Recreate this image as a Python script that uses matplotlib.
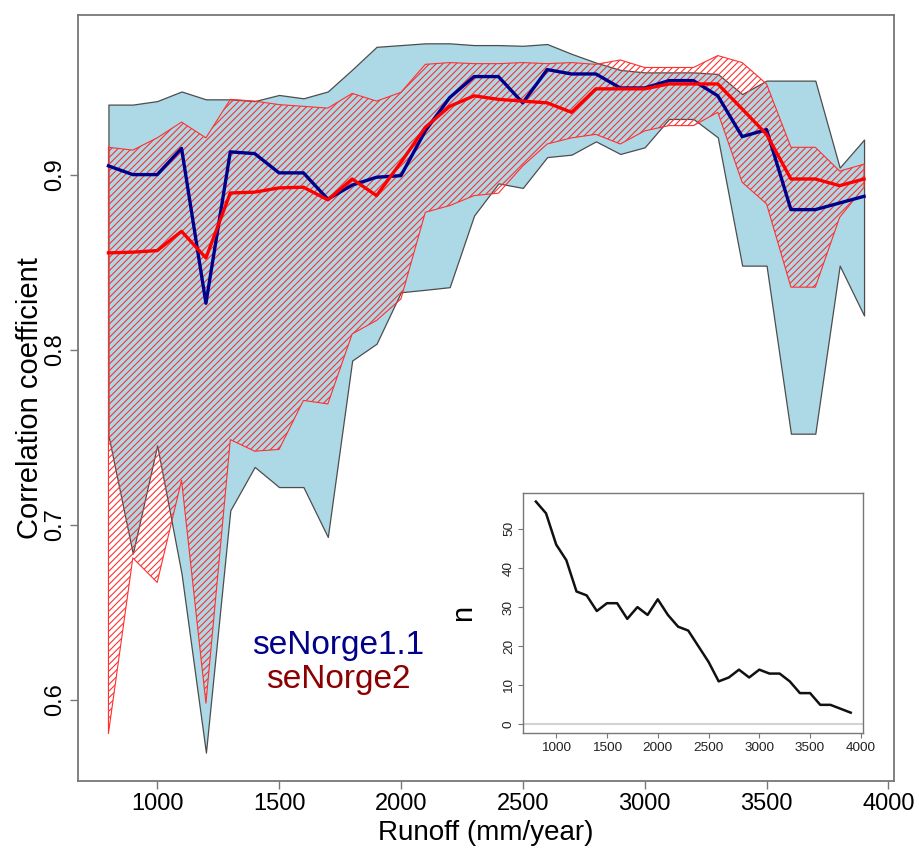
import matplotlib
matplotlib.use('Agg')
import matplotlib.pyplot as plt
from matplotlib.ticker import FixedLocator

plt.rcParams['font.family'] = ['Liberation Sans', 'DejaVu Sans']
plt.rcParams['hatch.linewidth'] = 0.8

# Runoff classes (mm/year)
runoff = [800, 900, 1000, 1100, 1200, 1300, 1400, 1500, 1600, 1700, 1800, 1900,
          2000, 2100, 2200, 2300, 2400, 2500, 2600, 2700, 2800, 2900, 3000, 3100,
          3200, 3300, 3400, 3500, 3600, 3700, 3800, 3900]

# seNorge1.1 (blue): mean, min, max correlation
sn1_mean = [0.905, 0.900, 0.900, 0.915, 0.8265, 0.913, 0.912, 0.901, 0.901, 0.886,
            0.894, 0.8985, 0.8994, 0.925, 0.944, 0.956, 0.956, 0.941, 0.960, 0.9575,
            0.9575, 0.9495, 0.9495, 0.9537, 0.9537, 0.945, 0.9217, 0.9257, 0.880,
            0.880, 0.8838, 0.8876]
sn1_min = [0.751, 0.6835, 0.7453, 0.672, 0.5698, 0.7082, 0.733, 0.7215, 0.7215, 0.693,
           0.7938, 0.8034, 0.8328, 0.8342, 0.8357, 0.8766, 0.895, 0.8924, 0.910, 0.9114,
           0.919, 0.9118, 0.9156, 0.9318, 0.9318, 0.9213, 0.848, 0.848, 0.752, 0.752,
           0.848, 0.8195]
sn1_max = [0.940, 0.940, 0.942, 0.9475, 0.943, 0.943, 0.942, 0.9455, 0.9436, 0.9475,
           0.960, 0.973, 0.974, 0.975, 0.975, 0.974, 0.974, 0.9736, 0.9746, 0.969,
           0.964, 0.9598, 0.9584, 0.9584, 0.9584, 0.9575, 0.946, 0.9537, 0.9537, 0.9537,
           0.904, 0.920]

# seNorge2 (red): mean, min, max correlation
sn2_mean = [0.8553, 0.8557, 0.8566, 0.8676, 0.8524, 0.8895, 0.890, 0.8924, 0.8928, 0.8856,
            0.8975, 0.888, 0.907, 0.927, 0.939, 0.945, 0.943, 0.942, 0.941, 0.9356,
            0.949, 0.949, 0.949, 0.9518, 0.9518, 0.9518, 0.9375, 0.923, 0.8975, 0.8975,
            0.8937, 0.8975]
sn2_min = [0.5807, 0.681, 0.667, 0.7254, 0.598, 0.7486, 0.742, 0.743, 0.771, 0.769,
           0.809, 0.8167, 0.829, 0.8785, 0.8823, 0.888, 0.8894, 0.905, 0.9175, 0.921,
           0.923, 0.9175, 0.925, 0.928, 0.928, 0.9356, 0.8956, 0.8833, 0.8357, 0.8357,
           0.8756, 0.8928]
sn2_max = [0.9156, 0.914, 0.921, 0.930, 0.921, 0.943, 0.942, 0.940, 0.939, 0.938,
           0.9464, 0.942, 0.947, 0.963, 0.964, 0.9634, 0.9634, 0.964, 0.9634, 0.964,
           0.963, 0.9655, 0.9612, 0.9612, 0.9612, 0.968, 0.964, 0.9518, 0.9156, 0.9156,
           0.902, 0.906]

# number of catchments per class (inset)
n_catch = [57, 54, 46, 42, 34, 33, 29, 31, 31, 27, 30, 28, 32, 28, 25, 24, 20, 16,
           11, 12, 14, 12, 14, 13, 13, 11, 8, 8, 5, 5, 4, 3]

xticks = [1000, 1500, 2000, 2500, 3000, 3500, 4000]
yticks = [0.6, 0.7, 0.8, 0.9]
nticks = [0, 10, 20, 30, 40, 50]

BLUE = '#00008B'
RED = '#FF0000'
DARKRED = '#8B0000'
FRAME = '#777777'


def r_range(vals):
    lo, hi = min(vals), max(vals)
    pad = 0.04 * (hi - lo)
    return lo - pad, hi + pad


fig = plt.figure(figsize=(9.19, 8.5), dpi=100)
ax = fig.add_axes([0.0851, 0.0812, 0.888, 0.9012])

ax.fill_between(runoff, sn1_min, sn1_max, facecolor='#ADD8E6', edgecolor='#4d4d4d',
                linewidth=0.9, zorder=1)
ax.fill_between(runoff, sn2_min, sn2_max, facecolor='none', edgecolor='#ff3030',
                hatch='/////', linewidth=0.8, zorder=2)
ax.plot(runoff, sn1_mean, color=BLUE, linewidth=2.4, zorder=3)
ax.plot(runoff, sn2_mean, color=RED, linewidth=2.4, zorder=4)

ax.set_xlim(*r_range(runoff))
ax.set_ylim(*r_range(sn1_min + sn1_max + sn2_min + sn2_max))
ax.xaxis.set_major_locator(FixedLocator(xticks))
ax.yaxis.set_major_locator(FixedLocator(yticks))
ax.set_yticklabels([f'{v:.1f}' for v in yticks])
ax.tick_params(axis='both', length=5.5, width=1.0, color=FRAME, labelsize=17, pad=3)
ax.tick_params(axis='y', labelrotation=90)
for lab in ax.get_yticklabels():
    lab.set_va('center')
for sp in ax.spines.values():
    sp.set_color(FRAME)
    sp.set_linewidth(1.3)

ax.set_xlabel('Runoff (mm/year)', fontsize=20, va='center')
ax.xaxis.set_label_coords(0.5, -0.068)
ax.set_ylabel('Correlation coefficient', fontsize=21, va='center')
ax.yaxis.set_label_coords(-0.059, 0.5)

ax.text(0.3183, 0.1775, 'seNorge1.1', color=BLUE, fontsize=24, ha='center',
        va='center', transform=ax.transAxes)
ax.text(0.3183, 0.1319, 'seNorge2', color=DARKRED, fontsize=24, ha='center',
        va='center', transform=ax.transAxes)

# inset
ins = fig.add_axes([0.5694, 0.1373, 0.370, 0.2831])
ins.set_facecolor('white')
ins.axhline(0, color='#d3d3d3', linewidth=1.5, zorder=1)
ins.plot(runoff, n_catch, color='#111111', linewidth=1.8, zorder=2)
ins.set_xlim(*r_range(runoff))
ins.set_ylim(*r_range(n_catch + [0]))
ins.xaxis.set_major_locator(FixedLocator(xticks))
ins.yaxis.set_major_locator(FixedLocator(nticks))
ins.tick_params(axis='both', length=3.5, width=0.8, color=FRAME, labelsize=9.7, pad=2.5,
                labelcolor='#222222')
ins.tick_params(axis='y', labelrotation=90)
for lab in ins.get_yticklabels():
    lab.set_va('center')
for sp in ins.spines.values():
    sp.set_color(FRAME)
    sp.set_linewidth(1.0)
ins.set_ylabel('n', fontsize=21, va='center')
ins.yaxis.set_label_coords(-0.177, 0.5)

fig.savefig('out.png', dpi=100, facecolor='white')
